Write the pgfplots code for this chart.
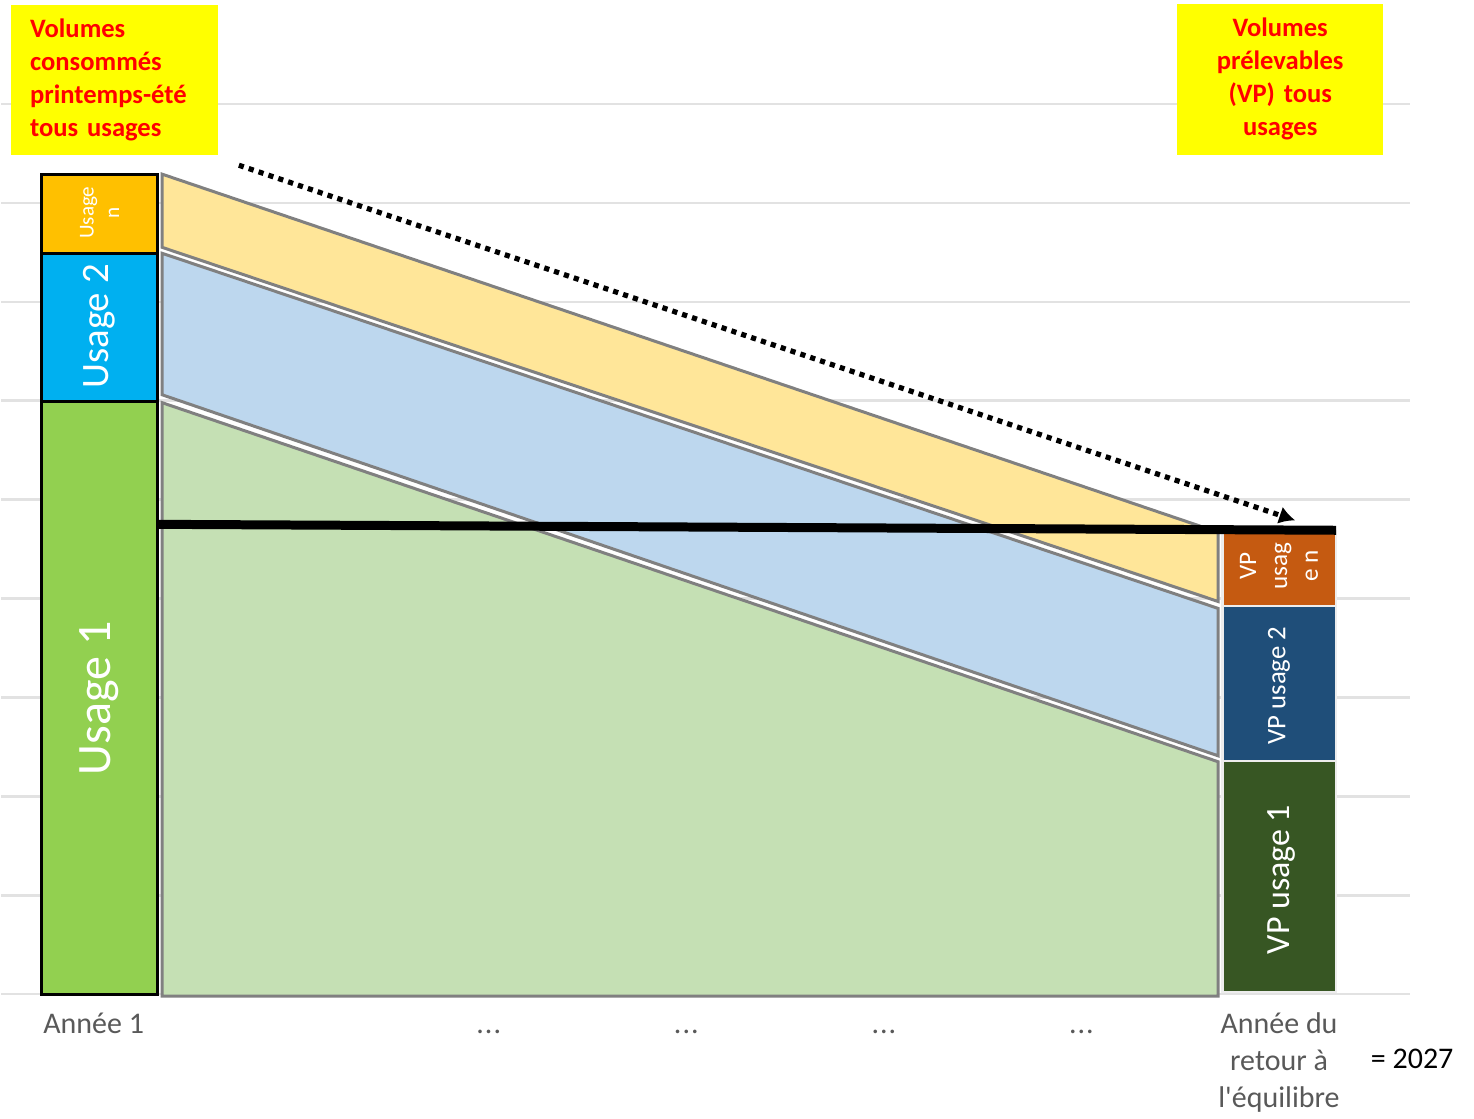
\documentclass[border=0pt]{standalone}
\usepackage{pgfplots}
\pgfplotsset{compat=1.18}
\usepackage{fontspec}
\setmainfont{Carlito}
\newfontface\plainapos{Carlito}[Ligatures=TeXOff]
\usetikzlibrary{arrows.meta}
\definecolor{gridc}{HTML}{E2E2E2}
\definecolor{usn}{HTML}{FFC000}
\definecolor{us2}{HTML}{00B0F0}
\definecolor{us1}{HTML}{92D050}
\definecolor{tn}{HTML}{FFE699}
\definecolor{t2}{HTML}{BDD7EE}
\definecolor{t1}{HTML}{C5E0B4}
\definecolor{vpn}{HTML}{C55A11}
\definecolor{vp2}{HTML}{1F4E79}
\definecolor{vp1}{HTML}{375623}
\definecolor{edge}{HTML}{808080}
\definecolor{ticktext}{HTML}{595959}
\definecolor{boxyellow}{HTML}{FFFF00}
\definecolor{boxred}{HTML}{FF0000}
\newcommand\sq{{\plainapos '}}
\newcommand\dd{.\kern0.5pt.\kern0.5pt.}
\begin{document}
\begin{tikzpicture}
\begin{axis}[
  scale only axis, width=705pt, height=495pt,
  xmin=-0.468, xmax=6.664, ymin=0, ymax=10,
  axis line style={draw=none},
  major tick length=0pt,
  ytick={0,1,2,3,4,5,6,7,8,9}, ymajorticks=false,
  ymajorgrids, grid style={gridc, line width=1.2pt},
  xtick={0,2,3,4,5,6},
  xticklabels={\strut Année 1,\strut\dd,\strut\dd,\strut\dd,\strut\dd,{\strut Année du\\retour à\\l\sq équilibre}},
  xticklabel style={text=ticktext, font=\fontsize{15}{18.5}\selectfont, align=center, anchor=north, yshift=-3pt},
  clip=false,
]
% connecting areas (trapezoids)
\addplot[fill=t1, draw=edge, line width=1.5pt] coordinates {(0.346,-0.02) (5.692,-0.02) (5.692,2.35) (0.346,5.98)} -- cycle;
\addplot[fill=t2, draw=edge, line width=1.5pt] coordinates {(0.346,6.06) (5.692,2.41) (5.692,3.90) (0.346,7.49)} -- cycle;
\addplot[fill=tn, draw=edge, line width=1.5pt] coordinates {(0.346,7.55) (5.692,3.97) (5.692,4.67) (0.346,8.29)} -- cycle;
% left stacked bar (Annee 1)
\addplot[fill=us1, draw=black, line width=1.5pt] coordinates {(-0.266,0) (0.321,0) (0.321,5.99) (-0.266,5.99)} -- cycle;
\addplot[fill=us2, draw=black, line width=1.5pt] coordinates {(-0.266,5.99) (0.321,5.99) (0.321,7.49) (-0.266,7.49)} -- cycle;
\addplot[fill=usn, draw=black, line width=1.5pt] coordinates {(-0.266,7.49) (0.321,7.49) (0.321,8.29) (-0.266,8.29)} -- cycle;
% right stacked bar (VP)
\addplot[fill=vp1, draw=white!93!black, line width=1.2pt] coordinates {(5.713,0.02) (6.289,0.02) (6.289,2.36) (5.713,2.36)} -- cycle;
\addplot[fill=vp2, draw=white!93!black, line width=1.2pt] coordinates {(5.713,2.36) (6.289,2.36) (6.289,3.925) (5.713,3.925)} -- cycle;
\addplot[fill=vpn, draw=white!93!black, line width=1.2pt] coordinates {(5.713,3.925) (6.289,3.925) (6.289,4.68) (5.713,4.68)} -- cycle;
% thick black line
\addplot[black, line width=4.5pt] coordinates {(0.321,4.75) (6.289,4.69)};
% dotted arrow
\addplot[black, line width=2.6pt, dash pattern=on 2.6pt off 2.6pt, -{Latex[length=8pt,width=9pt]}] coordinates {(0.735,8.38) (6.082,4.79)};
% bar labels
\node[rotate=90, text=white, font=\fontsize{24}{29}\selectfont] at (axis cs:0.03,2.99) {Usage 1};
\node[rotate=90, text=white, font=\fontsize{19.4}{23}\selectfont] at (axis cs:0.03,6.75) {Usage 2};
\node[rotate=90, text=white, align=center, font=\fontsize{10.6}{12.8}\selectfont] at (axis cs:0.03,7.9) {Usage\\n};
\node[rotate=90, text=white, font=\fontsize{17}{20}\selectfont] at (axis cs:6.01,1.16) {VP usage 1};
\node[rotate=90, text=white, font=\fontsize{13.4}{16}\selectfont] at (axis cs:6.0,3.12) {VP usage 2};
\node[rotate=90, text=white, align=center, font=\fontsize{12.6}{15.5}\selectfont] at (axis cs:6.0,4.33) {VP\\usag\\e n};
% yellow boxes
\node[fill=boxyellow, inner xsep=9.5pt, inner ysep=0pt, text width=84.5pt, minimum height=75pt, align=left, text=boxred, font=\bfseries\fontsize{13.3}{16.5}\selectfont] at (axis cs:0.106,9.24) {Volumes\\consommés\\printemps-été\\tous usages};
\node[fill=boxyellow, inner xsep=0pt, inner ysep=0pt, text width=103pt, minimum height=75.5pt, align=center, text=boxred, font=\bfseries\fontsize{13.3}{16.5}\selectfont] at (axis cs:6.006,9.25) {Volumes\\prélevables\\(VP) tous\\usages};
% year annotation
\node[font=\fontsize{15}{18}\selectfont, text=black] at (axis cs:6.674,-0.657) {= 2027};
% picture extent
\path (axis cs:-0.468,-1.172) rectangle (axis cs:6.987,10.05);
\end{axis}
\end{tikzpicture}
\end{document}
